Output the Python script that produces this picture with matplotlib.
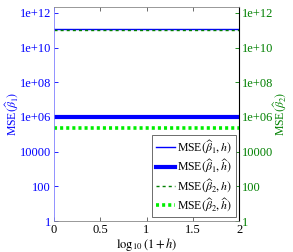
import numpy as np
import matplotlib
matplotlib.use('Agg')
import matplotlib.pyplot as plt

plt.rcParams['font.family'] = ['Liberation Serif', 'DejaVu Serif']
plt.rcParams['mathtext.fontset'] = 'stix'
plt.rcParams['lines.scale_dashes'] = False

# data
x = [0.0, 0.5, 1.0, 1.5, 2.0]
mse_b1_h = [1.2e11, 1.2e11, 1.2e11, 1.2e11, 1.2e11]
mse_b1_hhat = [1.0e6, 1.0e6, 1.0e6, 1.0e6, 1.0e6]
mse_b2_h = [1.0e11, 1.0e11, 1.0e11, 1.0e11, 1.0e11]
mse_b2_hhat = [2.4e5, 2.4e5, 2.4e5, 2.4e5, 2.4e5]

yticks = [1, 1e2, 1e4, 1e6, 1e8, 1e10, 1e12]
yticklabels = ['1', '100', '10000', '1e+06', '1e+08', '1e+10', '1e+12']
xticks = [0, 0.5, 1, 1.5, 2]
xticklabels = ['0', '0.5', '1', '1.5', '2']

blue = '#0000ff'
dgreen = '#008000'
lgreen = '#00ee00'

fig = plt.figure(figsize=(2.93, 2.52), dpi=100)
ax = fig.add_axes([0.184, 0.123, 0.632, 0.849])

ax.plot(x, mse_b1_h, color=blue, lw=1.0, label=r'MSE$(\widehat{\beta}_1,h)$')
ax.plot(x, mse_b1_hhat, color=blue, lw=3.0, label=r'MSE$(\widehat{\beta}_1,\widehat{h})$')
ax.plot(x, mse_b2_h, color=dgreen, lw=1.0, dashes=(2.2, 2.2), label=r'MSE$(\widehat{\beta}_2,h)$')
ax.plot(x, mse_b2_hhat, color=lgreen, lw=2.6, dashes=(2.2, 2.2), label=r'MSE$(\widehat{\beta}_2,\widehat{h})$')

ax.set_yscale('log')
ax.set_ylim(1, 2.2e12)
ax.set_xlim(0, 2)
ax.set_yticks(yticks)
ax.set_yticklabels(yticklabels)
ax.minorticks_off()
ax.set_xticks(xticks)
ax.set_xticklabels(xticklabels)
ax.tick_params(axis='both', direction='in', labelsize=9, length=3, width=0.6, top=True, pad=2)
ax.tick_params(axis='y', colors=blue, labelcolor=blue)
ax.tick_params(axis='x', colors='#555555', labelcolor='black')
ax.set_xlabel(r'$\log_{10}(1+h)$', fontsize=9, labelpad=0)
ax.set_ylabel(r'MSE$(\widehat{\beta}_1)$', fontsize=8.5, color=blue, labelpad=-1)

for s in ['top', 'bottom']:
    ax.spines[s].set_color('#888888')
    ax.spines[s].set_linewidth(0.6)
ax.spines['left'].set_color('#8080ff')
ax.spines['left'].set_linewidth(0.6)

ax2 = ax.twinx()
ax2.set_yscale('log')
ax2.set_ylim(ax.get_ylim())
ax2.set_yticks(yticks)
ax2.set_yticklabels(yticklabels)
ax2.minorticks_off()
ax2.tick_params(axis='y', direction='in', labelsize=9, length=3, width=0.6, pad=2,
                colors=dgreen, labelcolor=dgreen)
ax2.set_ylabel(r'MSE$(\widehat{\beta}_2)$', fontsize=8.5, color=dgreen, labelpad=-1)
ax2.spines['right'].set_color('#80b080')
ax2.spines['right'].set_linewidth(0.6)
for s in ['top', 'bottom', 'left']:
    ax2.spines[s].set_visible(False)

leg = ax.legend(loc='lower right', fontsize=8.5, fancybox=False, framealpha=1,
                edgecolor='#555555', handlelength=1.6, handletextpad=0.2,
                borderpad=0.3, labelspacing=0.15, borderaxespad=0.3)
leg.get_frame().set_linewidth(0.6)
ax2.set_zorder(0)
ax.set_zorder(1)
ax.patch.set_visible(False)

fig.savefig('out.png', dpi=100)
